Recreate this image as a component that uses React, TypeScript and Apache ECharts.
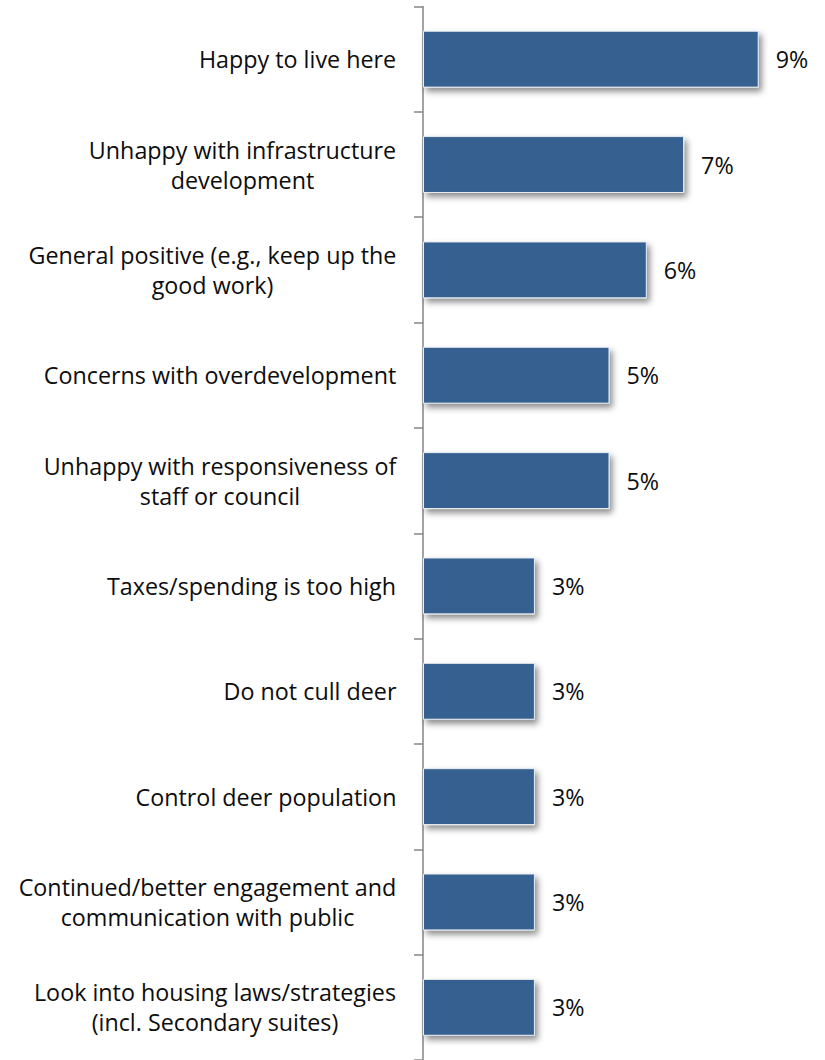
import React, { useEffect, useRef } from "react";
import * as echarts from "echarts";

const categories = [
  "Happy to live here",
  "Unhappy with infrastructure\ndevelopment",
  "General positive (e.g., keep up the\ngood work)",
  "Concerns with overdevelopment",
  "Unhappy with responsiveness of\nstaff or council",
  "Taxes/spending is too high",
  "Do not cull deer",
  "Control deer population",
  "Continued/better engagement and\ncommunication with public",
  "Look into housing laws/strategies\n(incl. Secondary suites)",
];
const values = [9, 7, 6, 5, 5, 3, 3, 3, 3, 3];

const FONT = "Open Sans";
const FS = 23.3;

export default function App() {
  const ref = useRef<HTMLDivElement>(null);
  useEffect(() => {
    if (!ref.current) return;
    const canvas = document.createElement("canvas");
    const ctx = canvas.getContext("2d")!;
    ctx.font = `${FS}px "${FONT}"`;
    const rich: Record<string, any> = {};
    categories.forEach((c, i) => {
      const w = Math.max(...c.split("\n").map((l) => ctx.measureText(l).width));
      rich["r" + i] = {
        width: Math.ceil(w) + 1,
        align: "center",
        fontSize: FS,
        fontFamily: FONT,
        color: "#0d0d0d",
        lineHeight: 30,
      };
    });
    const chart = echarts.init(ref.current, undefined, { renderer: "svg" });
    chart.setOption({
      animation: false,
      textStyle: { fontFamily: FONT },
      grid: { left: 423, right: 29, top: 6.5, bottom: -1, containLabel: false },
      xAxis: { type: "value", min: 0, max: 10, show: false },
      yAxis: {
        type: "category",
        data: categories,
        inverse: true,
        axisLine: { show: true, lineStyle: { color: "#868686", width: 1.5 } },
        axisTick: { show: true, length: 9, lineStyle: { color: "#868686", width: 1.5 } },
        axisLabel: {
          margin: 26,
          align: "right",
          formatter: (v: string) => {
            const i = categories.indexOf(v);
            return v
              .split("\n")
              .map((l) => `{r${i}|${l}}`)
              .join("\n");
          },
          rich,
        },
        splitLine: { show: false },
      },
      series: [
        {
          type: "bar",
          data: values,
          barCategoryGap: "46%",
          itemStyle: {
            color: "#36608F",
            borderColor: "#e8edf3",
            borderWidth: 1,
            shadowColor: "rgba(0,0,0,0.45)",
            shadowBlur: 6,
            shadowOffsetX: 3,
            shadowOffsetY: 4,
          },
          label: {
            show: true,
            position: "right",
            distance: 17,
            formatter: "{c}%",
            color: "#0d0d0d",
            fontSize: FS,
            fontFamily: FONT,
          },
        },
      ],
    });
    return () => chart.dispose();
  }, []);
  return (
    <div
      ref={ref}
      style={{ position: "fixed", left: 0, top: 0, width: 825, height: 1060, background: "#fff" }}
    />
  );
}
